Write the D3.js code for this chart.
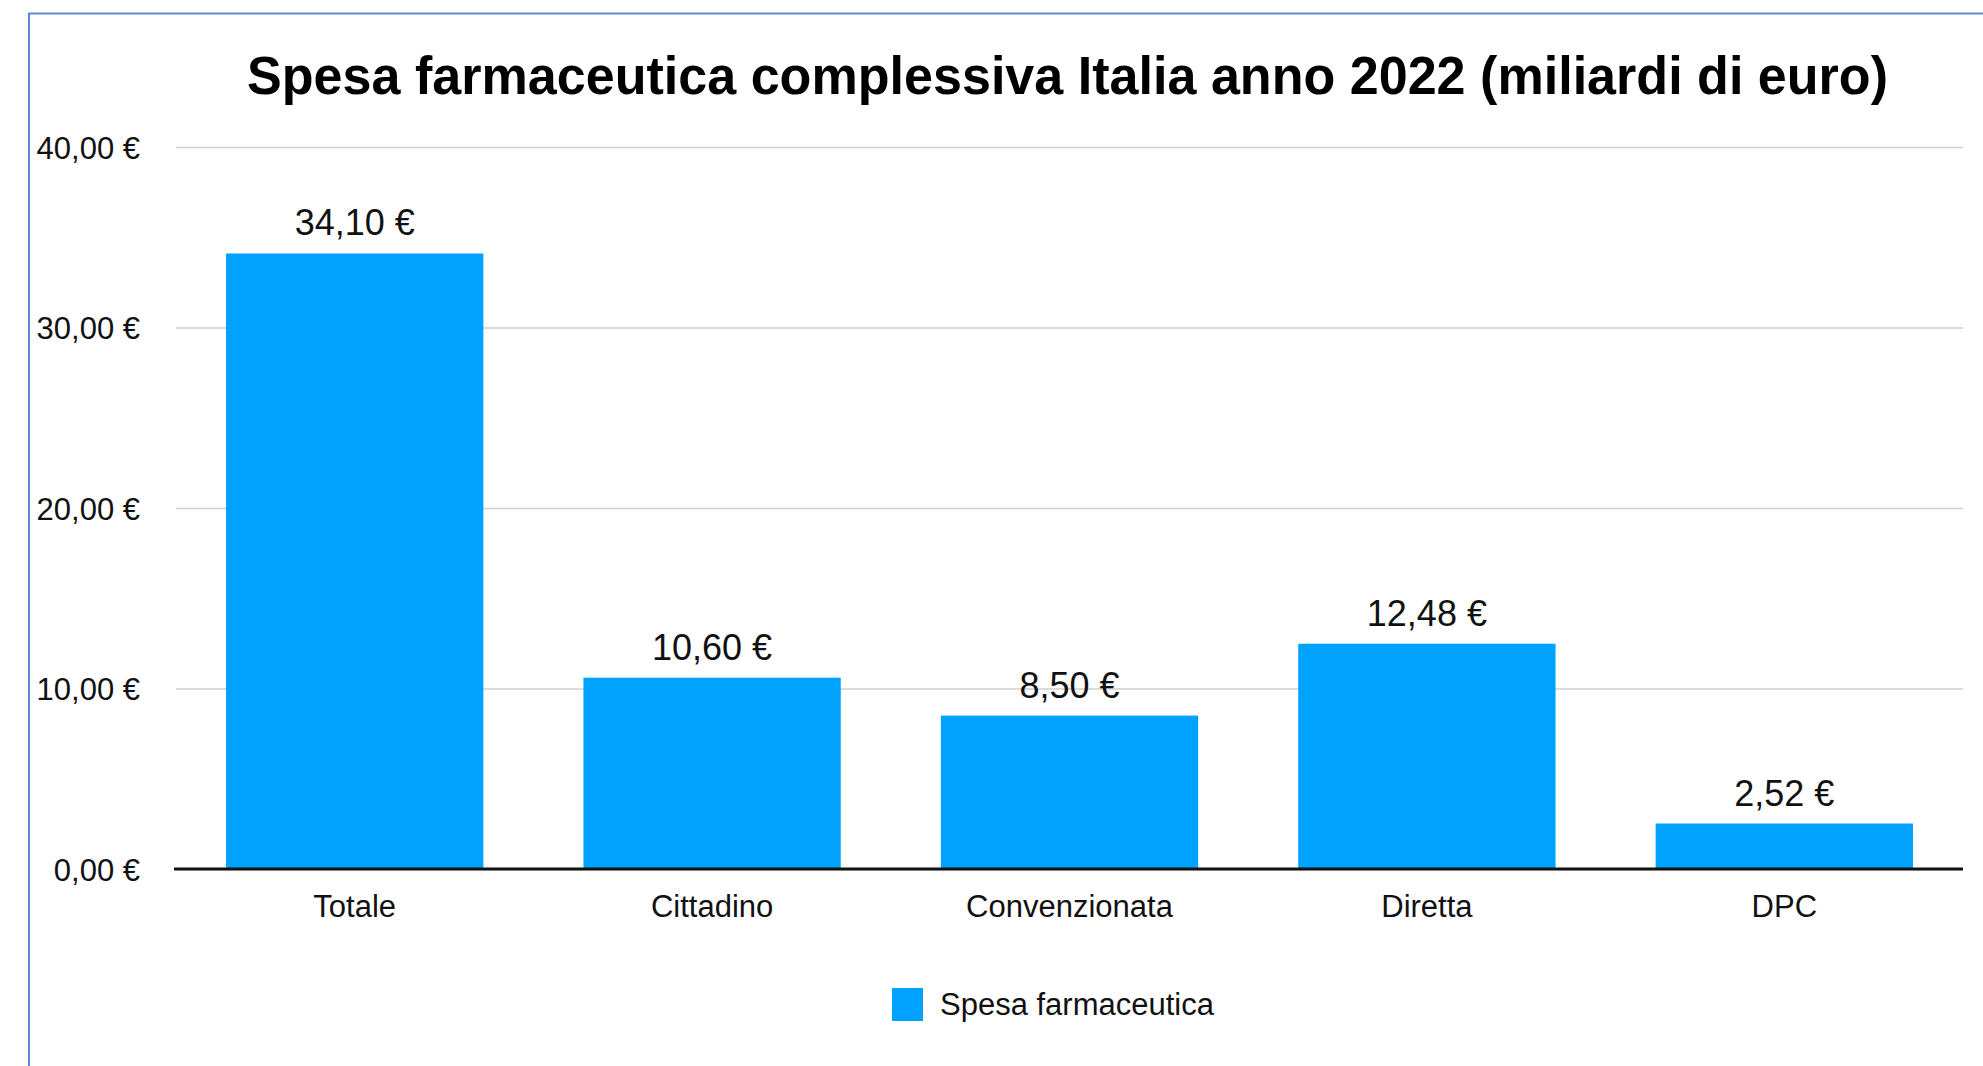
<!DOCTYPE html>
<html>
<head>
<meta charset="utf-8">
<script src="https://cdn.jsdelivr.net/npm/d3@7"></script>
<style>
  html, body { margin: 0; padding: 0; background: #fff; }
  svg { display: block; font-family: "Liberation Sans", Arial, Helvetica, sans-serif; }
</style>
</head>
<body>
<div id="chart"></div>
<script>
const categories = ["Totale", "Cittadino", "Convenzionata", "Diretta", "DPC"];
const values = [34.10, 10.60, 8.50, 12.48, 2.52];
const yTicks = [0, 10, 20, 30, 40];
const seriesName = "Spesa farmaceutica";
const title = "Spesa farmaceutica complessiva Italia anno 2022 (miliardi di euro)";

const width = 1983, height = 1066;
const pad = { l: 176, r: 20, t: 147, b: 197 };
const barColor = "#00a2ff";

const it = d3.formatLocale({ decimal: ",", thousands: ".", grouping: [3], currency: ["", " €"] });
const fmt = (v) => it.format(",.2f")(v) + " €";

const svg = d3.select("#chart").append("svg").attr("width", width).attr("height", height);

// outer frame (only top and left edges are visible in the original)
svg.append("path")
  .attr("d", `M29,${height} L29,13.5 L${width},13.5`)
  .attr("fill", "none")
  .attr("stroke", "#5f88d4")
  .attr("stroke-width", 2);

const x = d3.scaleBand()
  .domain(categories)
  .range([pad.l, width - pad.r])
  .paddingInner(0.28)
  .paddingOuter(0.14);

const y = d3.scaleLinear().domain([0, 40]).range([height - pad.b, pad.t]);

// y axis + gridlines
const yAxis = svg.append("g")
  .attr("transform", `translate(${pad.l},0)`)
  .call(d3.axisLeft(y).tickValues(yTicks).tickFormat(fmt)
    .tickSizeInner(-(width - pad.r - pad.l)).tickSizeOuter(0).tickPadding(36));
yAxis.select(".domain").remove();
yAxis.selectAll("line").attr("stroke", "#cfcfcf").attr("stroke-width", 1.5);
yAxis.selectAll("text").attr("font-size", 31).attr("fill", "#111").attr("dy", "0.36em");

// bars
svg.append("g").selectAll("rect")
  .data(values)
  .join("rect")
  .attr("x", (d, i) => x(categories[i]))
  .attr("y", (d) => y(d))
  .attr("width", x.bandwidth())
  .attr("height", (d) => y(0) - y(d))
  .attr("fill", barColor);

// value labels
svg.append("g").selectAll("text")
  .data(values)
  .join("text")
  .attr("x", (d, i) => x(categories[i]) + x.bandwidth() / 2)
  .attr("y", (d) => y(d) - 18)
  .attr("text-anchor", "middle")
  .attr("font-size", 36)
  .attr("fill", "#111")
  .text(fmt);

// x axis
const xAxis = svg.append("g")
  .attr("transform", `translate(0,${y(0)})`)
  .call(d3.axisBottom(x).tickSize(0).tickPadding(26));
xAxis.select(".domain").remove();
xAxis.selectAll("text").attr("font-size", 31).attr("fill", "#111");

// baseline
svg.append("line")
  .attr("x1", pad.l - 2).attr("x2", width - pad.r)
  .attr("y1", y(0)).attr("y2", y(0))
  .attr("stroke", "#111").attr("stroke-width", 3);

// title (squeezed a little to mimic the narrow bold face of the original)
svg.append("text")
  .attr("x", 247)
  .attr("y", 94)
  .attr("font-size", 54)
  .attr("font-weight", "bold")
  .attr("fill", "#000")
  .attr("textLength", 1641)
  .attr("lengthAdjust", "spacingAndGlyphs")
  .text(title);

// legend
const legend = svg.append("g").attr("transform", "translate(892,988)");
legend.append("rect").attr("width", 31).attr("height", 33).attr("fill", barColor);
legend.append("text")
  .attr("x", 48).attr("y", 27)
  .attr("font-size", 31).attr("fill", "#111")
  .text(seriesName);
</script>
</body>
</html>
